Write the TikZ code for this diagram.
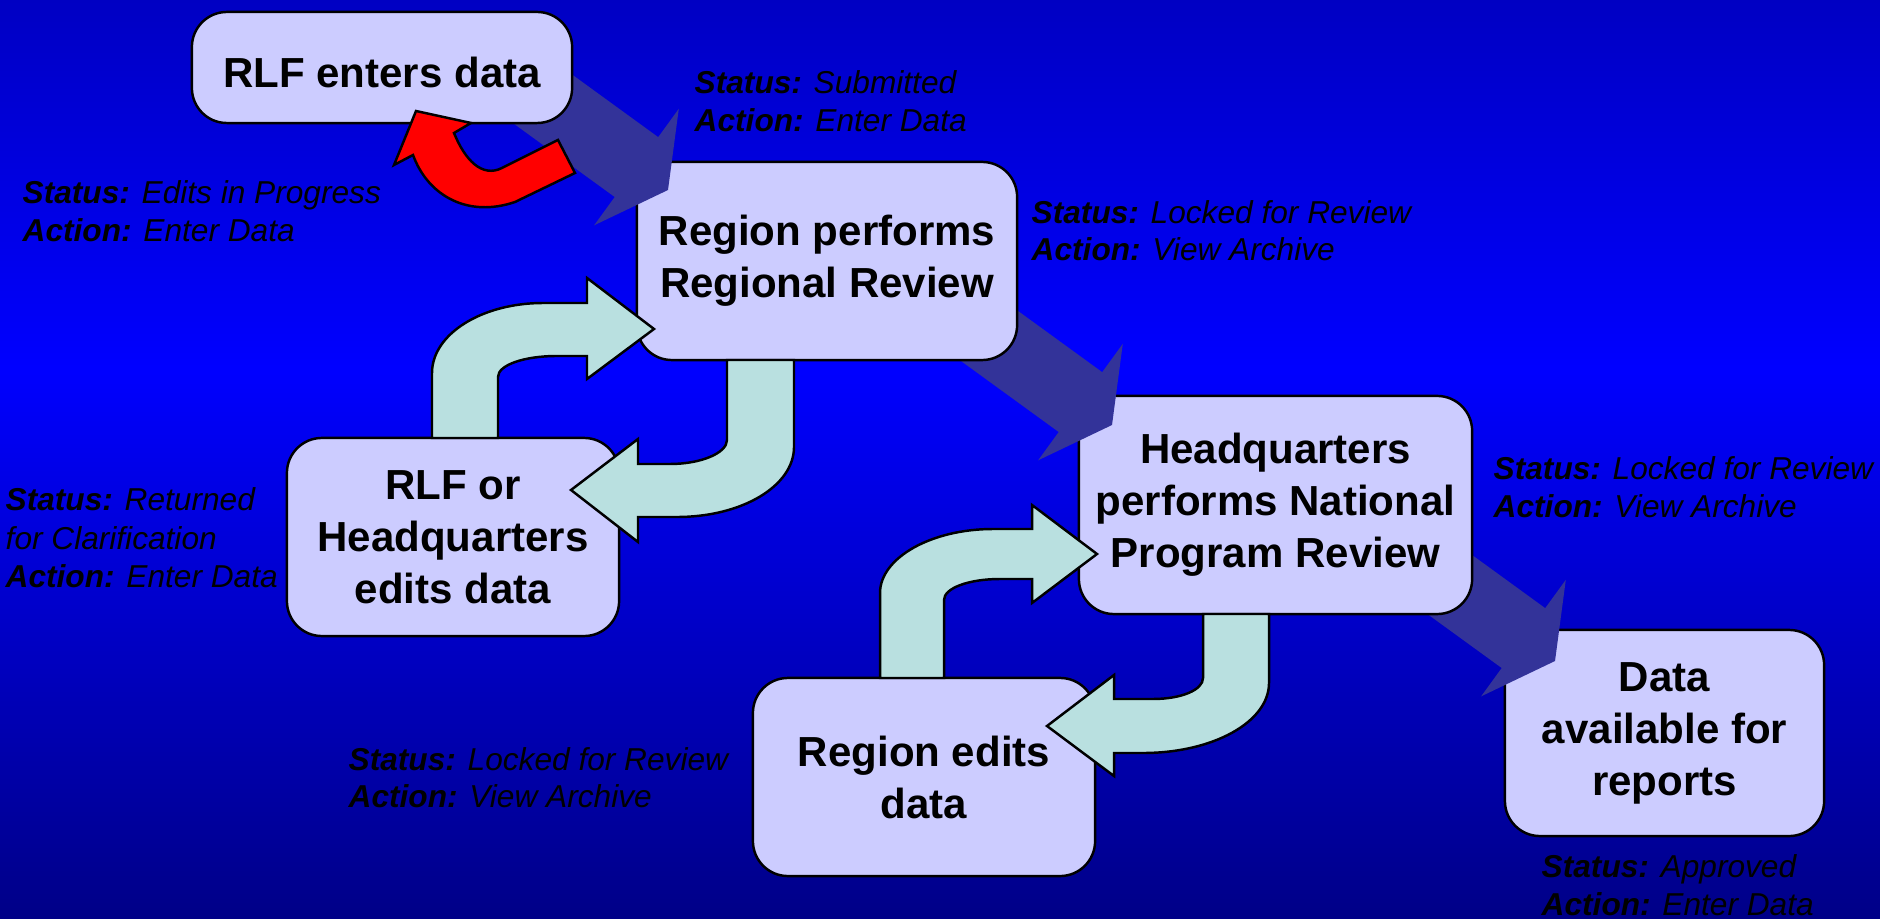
\documentclass[tikz,border=0pt]{standalone}
\usepackage{fontspec}
\setmainfont{Liberation Sans}
\definecolor{bgtop}{RGB}{0,0,195}
\definecolor{bgmid}{RGB}{0,0,255}
\definecolor{bgbot}{RGB}{0,0,135}
\definecolor{boxfill}{RGB}{204,204,255}
\definecolor{darkarr}{RGB}{51,51,153}
\definecolor{cyanfill}{RGB}{185,224,224}
\pgfdeclareverticalshading{bgshade}{100bp}{color(0bp)=(bgbot); color(25bp)=(bgbot); color(55bp)=(bgmid); color(75bp)=(bgtop); color(100bp)=(bgtop)}
\newcommand{\bigblockarrow}[1]{%
  \fill[blockarr, shift={(#1)}, rotate=-36] (0,0) -- (-39,72) -- (-39,37) -- (-200,37) -- (-200,-37) -- (-39,-37) -- (-39,-72) -- cycle;}
\begin{document}
\begin{tikzpicture}[x=0.01cm,y=-0.01cm,
  box/.style={draw=black, line width=0.7pt, fill=boxfill, rounded corners=0.35cm, align=center,
    font=\fontsize{11.95}{14.8}\selectfont\bfseries, inner sep=0pt,
    execute at begin node={\rule{0pt}{11.4pt}}},
  blockarr/.style={fill=darkarr},
  cyanarr/.style={draw=black, line width=0.7pt, fill=cyanfill, line join=miter},
  redarr/.style={draw=black, line width=0.7pt, fill=red, line join=miter},
  lbl/.style={anchor=base west, inner sep=0pt, font=\fontsize{9.0}{10.5}\selectfont\itshape}]
\useasboundingbox (0,0) rectangle (1880,919);
\shade[shading=bgshade] (0,0) rectangle (1880,919);

% chain of boxes and block arrows (order gives the overlaps)
\node[box, minimum width=3.19cm, minimum height=2.06cm] (b6) at (1664.5,733) {Data\\available for\\reports};
\coordinate (t3) at (1555,661);
\bigblockarrow{t3}
\node[box, minimum width=3.93cm, minimum height=2.18cm] (b4) at (1275.5,505) {Headquarters\\performs National\\Program Review};
\coordinate (t2) at (1112,425);
\bigblockarrow{t2}
\node[box, minimum width=3.80cm, minimum height=1.98cm] (b2) at (827,261) {Region performs\\Regional Review};
\coordinate (t1) at (668,190);
\bigblockarrow{t1}
\node[box, minimum width=3.80cm, minimum height=1.11cm] (b1) at (382,67.5) {RLF enters data};
\node[box, minimum width=3.32cm, minimum height=1.98cm] (b3) at (453,537) {RLF or\\Headquarters\\edits data};
\node[box, minimum width=3.42cm, minimum height=1.98cm] (b5) at (924,777) {Region edits\\data};

% cyan U-turn arrows
\draw[cyanarr] (432,438) -- (432,373) .. controls (432,334) and (482,303) .. (543,303) -- (587,303) -- (587,278) -- (654,329) -- (587,379) -- (587,356) -- (557,356) .. controls (524,356) and (498,365) .. (498,377) -- (498,438) -- cycle;
\draw[cyanarr] (794,360) -- (794,447) .. controls (794,486) and (742,517) .. (677,517) -- (638,517) -- (638,542) -- (571,490) -- (638,439) -- (638,464) -- (670,464) .. controls (701,464) and (727,453) .. (727,440) -- (727,360) -- cycle;
\draw[cyanarr] (880,678) -- (880,593) .. controls (880,558) and (931,529) .. (993,529) -- (1032,529) -- (1032,505) -- (1097,554) -- (1032,603) -- (1032,579) -- (1000,579) .. controls (969,579) and (944,588) .. (944,600) -- (944,678) -- cycle;
\draw[cyanarr] (1269,614) -- (1269,683) .. controls (1269,722) and (1213,753) .. (1143,753) -- (1114,753) -- (1114,776) -- (1047,726) -- (1114,675) -- (1114,699) -- (1153,699) .. controls (1181,699) and (1203,690) .. (1203,678) -- (1203,614) -- cycle;

% red loop arrow
\draw[redarr] (575,173) -- (515,202) .. controls (468,218) and (428,196) .. (413,155) -- (394,165) -- (416,111) -- (471,123) -- (454,133) .. controls (465,160) and (482,178) .. (502,168) -- (558,140) -- cycle;

% status labels
\node[lbl] (s1a) at (694,94) {\textbf{Status:} Submitted};
\node[lbl] (s1b) at (694,132) {\textbf{Action:} Enter Data};
\node[lbl] (s2a) at (22,204) {\textbf{Status:} Edits in Progress};
\node[lbl] (s2b) at (22,242) {\textbf{Action:} Enter Data};
\node[lbl] (s3a) at (1031,224) {\textbf{Status:} Locked for Review};
\node[lbl] (s3b) at (1031,261) {\textbf{Action:} View Archive};
\node[lbl] (s4a) at (5,511) {\textbf{Status:} Returned};
\node[lbl] (s4b) at (5,549) {for Clarification};
\node[lbl] (s4c) at (5,587) {\textbf{Action:} Enter Data};
\node[lbl] (s5a) at (1493,479) {\textbf{Status:} Locked for Review};
\node[lbl] (s5b) at (1493,517) {\textbf{Action:} View Archive};
\node[lbl] (s6a) at (348,770) {\textbf{Status:} Locked for Review};
\node[lbl] (s6b) at (348,807) {\textbf{Action:} View Archive};
\node[lbl] (s7a) at (1541,877) {\textbf{Status:} Approved};
\node[lbl] (s7b) at (1541,915) {\textbf{Action:} Enter Data};
\end{tikzpicture}
\end{document}
